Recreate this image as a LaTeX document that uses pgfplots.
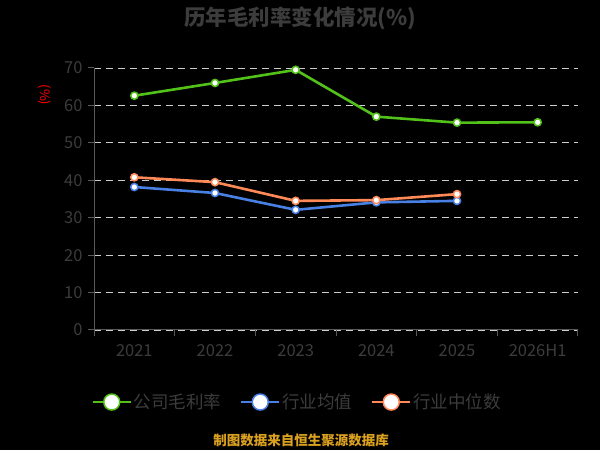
\documentclass[border=0pt]{standalone}
\usepackage{pgfplots}
\pgfplotsset{compat=1.18}
\usepackage{fontspec}
\setmainfont{Noto Sans CJK SC}
\definecolor{cgreen}{RGB}{82,194,26}
\definecolor{cblue}{RGB}{72,128,228}
\definecolor{corange}{RGB}{255,138,88}
\definecolor{ctext}{RGB}{60,60,60}
\definecolor{caxis}{RGB}{90,90,90}
\definecolor{cgrid}{RGB}{205,205,205}
\definecolor{cgold}{RGB}{218,160,32}
\begin{document}
\begin{tikzpicture}[x=1pt,y=1pt]
\fill[black] (0,0) rectangle (600,450);
\begin{axis}[
  at={(94pt,120pt)}, anchor=south west,
  scale only axis, width=484pt, height=262pt,
  xmin=-0.5, xmax=5.5, ymin=0, ymax=70,
  axis x line*=bottom, axis y line*=left,
  axis line style={caxis, line width=1pt, -},
  xtick={0,1,2,3,4,5},
  xticklabels={2021,2022,2023,2024,2025,2026H1},
  minor xtick={-0.5,0.5,1.5,2.5,3.5,4.5,5.5},
  ytick={0,10,20,30,40,50,60,70},
  tick align=outside,
  major tick length=6pt, minor tick length=6pt,
  x tick style={draw=none},
  minor x tick style={draw=caxis, line width=1pt},
  y tick style={draw=caxis, line width=1pt},
  ymajorgrids,
  major grid style={cgrid, line width=0.9pt, dash pattern=on 7pt off 5pt},
  tick label style={font=\fontsize{16.5}{18}\selectfont, color=ctext},
  xticklabel style={yshift=-5pt},
  yticklabel style={xshift=-2pt},
  /pgf/number format/assume math mode=true,
  legend style={at={(0.42,-0.275)}, anchor=center, draw=none, fill=none,
    font=\fontsize{17.5}{20}\selectfont, text=ctext, legend columns=-1,
    /tikz/every even column/.append style={column sep=17pt}},
  legend image code/.code={
    \draw[#1, line width=2pt] (0pt,0pt) -- (38pt,0pt);
    \draw[#1, line width=1.5pt, fill=white] (19pt,0pt) circle (8pt);
  },
]
\addplot[cgreen, line width=2.6pt, mark=*, mark size=3.6pt, mark options={fill=white, draw=cgreen, line width=1.5pt}]
  coordinates {(0,62.6) (1,66.0) (2,69.5) (3,57.0) (4,55.4) (5,55.5)};
\addlegendentry{公司毛利率}
\addplot[cblue, line width=2.6pt, mark=*, mark size=3.6pt, mark options={fill=white, draw=cblue, line width=1.5pt}]
  coordinates {(0,38.2) (1,36.6) (2,32.1) (3,34.1) (4,34.5)};
\addlegendentry{行业均值}
\addplot[corange, line width=2.6pt, mark=*, mark size=3.6pt, mark options={fill=white, draw=corange, line width=1.5pt}]
  coordinates {(0,40.8) (1,39.5) (2,34.5) (3,34.7) (4,36.3)};
\addlegendentry{行业中位数}
\end{axis}
\node[font=\fontsize{21.5}{24}\selectfont\bfseries, text=ctext] at (300,432) {历年毛利率变化情况(\%)};
\node[font=\fontsize{13}{15}\selectfont, text=red, rotate=-90] at (45,355) {(\%)};
\node[font=\fontsize{13.5}{16}\selectfont\bfseries, text=cgold] at (301,10) {制图数据来自恒生聚源数据库};
\end{tikzpicture}
\end{document}
